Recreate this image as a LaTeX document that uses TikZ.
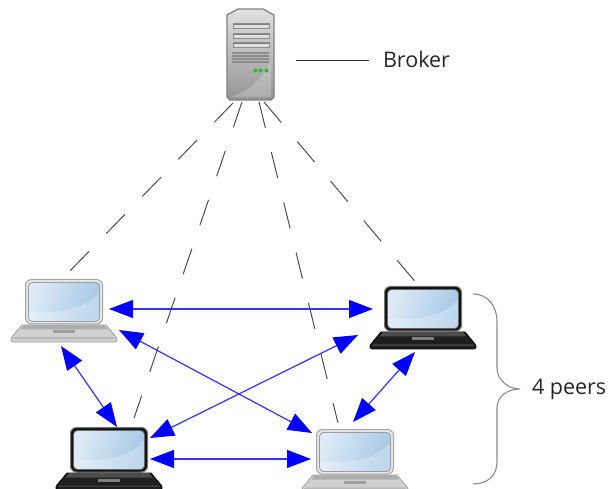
\documentclass[tikz,border=0pt]{standalone}
\usepackage{fontspec}
\setmainfont{Open Sans}
\usetikzlibrary{arrows.meta}
\definecolor{arrowblue}{RGB}{0,0,255}
\definecolor{linkblue}{RGB}{50,50,255}
\definecolor{scrL}{RGB}{222,234,246}
\definecolor{scrR}{RGB}{166,200,230}
\tikzset{
  peerbox/.style={inner sep=0pt,outer sep=0pt,minimum width=106pt,minimum height=62pt},
  link/.style={draw=linkblue,line width=1.2pt,{Stealth[length=24pt,width=18pt,inset=0pt,color=arrowblue]}-{Stealth[length=24pt,width=18pt,inset=0pt,color=arrowblue]}},
  tether/.style={draw=black!70,line width=1pt,dash pattern=on 26.8pt off 24.9pt},
  label/.style={inner sep=0pt,outer sep=0pt,font=\fontsize{21.5}{25}\selectfont,text=black!85,anchor=west},
  bracecurve/.style={draw=black!45,line width=1.1pt,line cap=round},
  pics/laptop/.style n args={7}{code={
    % frame
    \draw[draw=#2,fill=#1,line width=1pt,rounded corners=6pt] (-38.5,-31.5) rectangle (38.5,13);
    % screen
    \begin{scope}
      \path[clip,rounded corners=4pt] (-35.5,-28.5) rectangle (35.5,10.5);
      \fill[left color=scrL,right color=scrR,shading angle=70] (-36,-29) rectangle (36,11);
      \fill[white,opacity=.28] (-36,0) .. controls (0,4) and (25,-4) .. (36,-20) -- (36,11) -- (-36,11) -- cycle;
    \end{scope}
    \draw[draw=#7,line width=.8pt,rounded corners=4pt] (-35.5,-28.5) rectangle (35.5,10.5);
    % base
    \draw[draw=#4,fill=#5,line width=.8pt,line join=round] (-42,14) -- (42,14) -- (52,26) .. controls (54,29) and (53,31) .. (50,31) -- (-50,31) .. controls (-53,31) and (-54,29) .. (-52,26) -- cycle;
    % hinge
    \fill[#3] (-40,14) -- (40,14) -- (43.5,18.5) -- (-43.5,18.5) -- cycle;
    % front lip
    \fill[#3] (-50,26.5) -- (50,26.5) -- (51,27.6) -- (-51,27.6) -- cycle;
    \fill[#6] (-11,19.5) rectangle (11,22.5);
  }}
}
\begin{document}
\begin{tikzpicture}[x=1pt,y=-1pt]
\useasboundingbox (0,0) rectangle (611,489);
% server
\node[inner sep=0pt,outer sep=0pt,minimum width=47pt,minimum height=92pt] (srv) at (250.5,54) {};
\draw[draw=black!50,line width=1.3pt,top color=black!12,bottom color=black!42,line join=round]
  (227,15) -- (238,9) -- (263,9) -- (274,15) -- (274,97) -- (271,100) -- (230,100) -- (227,97) -- cycle;
\fill[white,opacity=.22] (230,97) .. controls (250,92) and (265,75) .. (271,60) -- (271,97) -- cycle;
\foreach \yy in {23,33,42}{
  \fill[black!50] (233,\yy) rectangle (269,\yy+2);
  \fill[black!12] (233.5,\yy+2) rectangle (268.5,\yy+5);
  \draw[black!45,line width=.5pt] (233,\yy) rectangle (269,\yy+5);
}
\foreach \yy in {52,55,58,61}{
  \fill[black!45] (232,\yy) rectangle (269,\yy+1.7);
}
\foreach \xx in {255.5,260.5,266.5}{
  \fill[green!70!black!85] (\xx,70.5) circle (2pt);
}
% laptops
\node[peerbox] (p1) at (64,311) {};
\node[peerbox] (p2) at (423,318) {};
\node[peerbox] (p3) at (109,459) {};
\node[peerbox] (p4) at (355,461) {};
\pic at (p1.center) {laptop={black!10}{black!35}{black!32}{black!38}{black!18}{black!38}{black!38}};
\pic at (p4.center) {laptop={black!10}{black!35}{black!32}{black!38}{black!18}{black!38}{black!38}};
\pic at (p2.center) {laptop={black!92}{black!55}{black!70}{black}{black!88}{black!50}{black!60}};
\pic at (p3.center) {laptop={black!92}{black!55}{black!70}{black}{black!88}{black!50}{black!60}};
% tethers
\draw[tether] ([shift={(-17.5,49)}]srv.center) -- ([shift={(4.5,-38.5)}]p1.center);
\draw[tether] ([shift={(-8.5,48)}]srv.center) -- ([shift={(25,-41)}]p3.center);
\draw[tether] ([shift={(8.5,48)}]srv.center) -- ([shift={(-17,-38)}]p4.center);
\draw[tether] ([shift={(13.5,48)}]srv.center) -- ([shift={(-8,-36.5)}]p2.center);
% links
\draw[link] ([shift={(45,-2)}]p1.center) -- ([shift={(-50,-9)}]p2.center);
\draw[link] ([shift={(55,19)}]p1.center) -- ([shift={(-43,-28)}]p4.center);
\draw[link] ([shift={(-3,35)}]p1.center) -- ([shift={(8,-32)}]p3.center);
\draw[link] ([shift={(41,-21)}]p3.center) -- ([shift={(-65,17)}]p2.center);
\draw[link] ([shift={(41,0)}]p3.center) -- ([shift={(-44,-2)}]p4.center);
\draw[link] ([shift={(-8,34)}]p2.center) -- ([shift={(-2,-39)}]p4.center);
% broker label
\node[label] (brk) at (383,59) {Broker};
\draw[draw=black!80,line width=1pt] ([shift={(45.5,7)}]srv.center) -- ([shift={(-14,2)}]brk.west);
% brace
\node[label] (prs) at (532,389) {4 peers};
\draw[bracecurve] ([shift={(-59,-95)}]prs.west) .. controls (487,294) and (497,305) .. (497,322)
  -- (497,368) .. controls (497,380) and (508,389) .. (520,389)
  .. controls (508,389) and (497,396) .. (497,408)
  -- (497,462) .. controls (497,476) and (487,484) .. (473,484);
\end{tikzpicture}
\end{document}
